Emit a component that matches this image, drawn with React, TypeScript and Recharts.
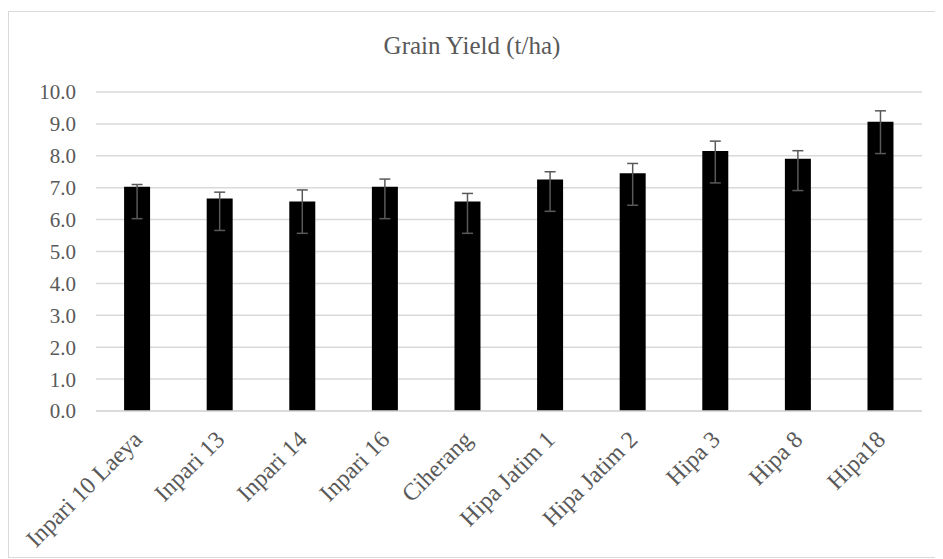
import React from "react";
import { BarChart, Bar, XAxis, YAxis, CartesianGrid, ErrorBar } from "recharts";

const categories = [
  "Inpari 10 Laeya",
  "Inpari 13",
  "Inpari 14",
  "Inpari 16",
  "Ciherang",
  "Hipa Jatim 1",
  "Hipa Jatim 2",
  "Hipa 3",
  "Hipa 8",
  "Hipa18",
];
const yieldValues = [7.03, 6.66, 6.57, 7.03, 6.57, 7.26, 7.45, 8.15, 7.91, 9.07];
const errLower = [1.0, 1.0, 1.0, 1.0, 1.0, 1.0, 1.0, 1.0, 1.0, 1.0];
const errUpper = [0.07, 0.2, 0.36, 0.24, 0.25, 0.24, 0.31, 0.31, 0.25, 0.34];
const yTicks = [0, 1, 2, 3, 4, 5, 6, 7, 8, 9, 10];

const data = categories.map((name, i) => ({
  name,
  value: yieldValues[i],
  err: [errLower[i], errUpper[i]],
}));

const FONT = '"Liberation Serif", "Times New Roman", serif';
const TEXT = "#595959";

const XTick = (props: any) => {
  const { x, y, payload } = props;
  return (
    <g transform={`translate(${x + 6},${y + 22})`}>
      <text
        transform="rotate(-45)"
        textAnchor="end"
        fill={TEXT}
        fontFamily={FONT}
        fontSize={24}
      >
        {payload.value}
      </text>
    </g>
  );
};

export default function App() {
  return (
    <div style={{ paddingTop: 3 }}>
      <div
        style={{
          position: "relative",
          width: 934,
          height: 545,
          borderTop: "1px solid #d9d9d9",
          borderLeft: "1px solid #d9d9d9",
          borderBottom: "1px solid #d9d9d9",
          background: "#fff",
        }}
      >
        <div
          style={{
            position: "absolute",
            left: 463,
            top: 19,
            transform: "translateX(-50%)",
            fontFamily: FONT,
            fontSize: 25,
            color: TEXT,
            whiteSpace: "nowrap",
            lineHeight: "30px",
          }}
        >
          Grain Yield (t/ha)
        </div>
        <BarChart
          width={934}
          height={545}
          data={data}
          margin={{ top: 80, right: 21, bottom: 0, left: 0 }}
          barCategoryGap="34%"
        >
          <CartesianGrid vertical={false} stroke="#d9d9d9" strokeWidth={1.5} />
          <XAxis
            dataKey="name"
            height={146}
            interval={0}
            tickLine={false}
            axisLine={{ stroke: "#d9d9d9", strokeWidth: 1.5 }}
            tick={<XTick />}
          />
          <YAxis
            width={87}
            domain={[0, 10]}
            ticks={yTicks}
            interval={0}
            tickLine={false}
            axisLine={false}
            tickMargin={14}
            tickFormatter={(v: number) => v.toFixed(1)}
            tick={{ fill: TEXT, fontFamily: FONT, fontSize: 21 }}
          />
          <Bar dataKey="value" fill="#000000" isAnimationActive={false}>
            <ErrorBar
              dataKey="err"
              width={5.5}
              stroke="#595959"
              strokeWidth={1.5}
              direction="y"
              isAnimationActive={false}
            />
          </Bar>
        </BarChart>
      </div>
    </div>
  );
}
